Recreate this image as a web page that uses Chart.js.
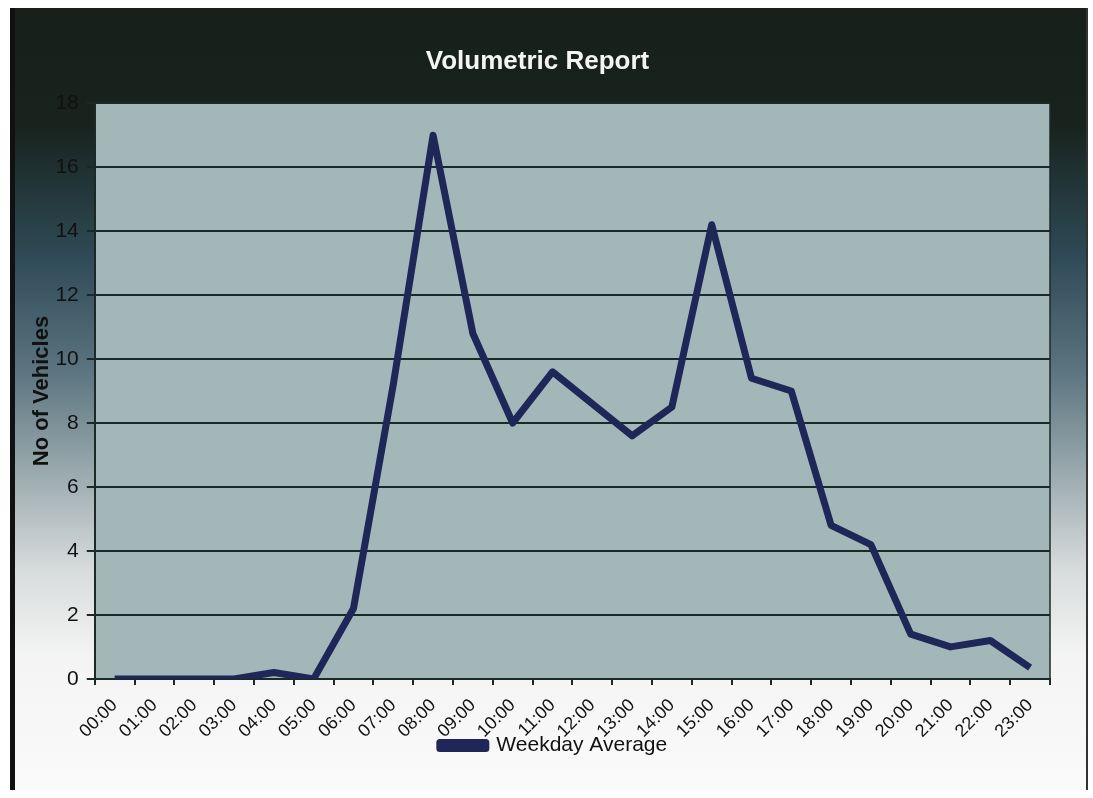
<!DOCTYPE html>
<html>
<head>
<meta charset="utf-8">
<script src="https://cdn.jsdelivr.net/npm/chart.js@4.4.1/dist/chart.umd.min.js"></script>
<style>
  body { margin: 0; background: #fff; }
  #frame {
    position: absolute; left: 10px; top: 8px; width: 1078px; height: 782px;
    border-left: 5px solid #111; border-right: 2px solid #333; box-sizing: border-box;
    background: linear-gradient(to bottom, #17201b 0%, #18231e 15%, #2f4b57 32%, #5a737e 46%, #98a8ad 59%, #d8dcdc 72%, #f4f4f4 83%, #fafafa 100%);
  }
  canvas { display: block; }
</style>
</head>
<body>
<div id="frame"><canvas id="myChart1" width="1071" height="782"></canvas></div>
<script>
const hours = ["00:00", "01:00", "02:00", "03:00", "04:00", "05:00", "06:00", "07:00", "08:00", "09:00", "10:00", "11:00",
  "12:00", "13:00", "14:00", "15:00", "16:00", "17:00", "18:00", "19:00", "20:00", "21:00", "22:00", "23:00"];
const weekdayAverage = [0, 0, 0, 0, 0.2, 0, 2.2, 9.2, 17.0, 10.8, 8.0, 9.6,
  8.6, 7.6, 8.5, 14.2, 9.4, 9.0, 4.8, 4.2, 1.4, 1.0, 1.2, 0.35];
const yTicks = [0, 2, 4, 6, 8, 10, 12, 14, 16, 18];

const gridColor = "#1b2a27";
const lineColor = "#1f2758";
const fontFam = "'Liberation Sans', Arial, sans-serif";

// plot area fill + right edge
const plotBg = {
  id: "plotBg",
  beforeDraw(chart) {
    const { ctx, chartArea: a } = chart;
    ctx.save();
    ctx.fillStyle = "#a3b7b8";
    ctx.fillRect(a.left, a.top, a.right - a.left, a.bottom - a.top);
    ctx.strokeStyle = gridColor;
    ctx.lineWidth = 1.5;
    ctx.beginPath();
    ctx.moveTo(a.right, a.top);
    ctx.lineTo(a.right, a.bottom);
    ctx.stroke();
    ctx.restore();
  }
};

// legend sits tucked up under the rotated hour labels, a bit right of centre
const legendUp = {
  id: "legendUp",
  afterLayout(chart) {
    const lg = chart.legend;
    lg.top -= 17;
    lg.bottom -= 17;
    lg.left += 16;
    lg.right += 16;
  }
};

new Chart(document.getElementById("myChart1"), {
  type: "line",
  data: {
    labels: hours,
    datasets: [{
      label: "Weekday Average",
      data: weekdayAverage,
      borderColor: lineColor,
      backgroundColor: lineColor,
      borderWidth: 7,
      pointRadius: 0,
      tension: 0,
      borderJoinStyle: "round"
    }]
  },
  options: {
    responsive: false,
    animation: false,
    layout: { padding: { left: 10, right: 36, top: 12, bottom: 7 } },
    plugins: {
      title: {
        display: true,
        text: "Volumetric Report",
        color: "#f4f4f4",
        font: { family: fontFam, size: 26, weight: "bold" },
        padding: { top: 26, bottom: 26 }
      },
      legend: {
        position: "bottom",
        labels: {
          color: "#111",
          font: { family: fontFam, size: 21 },
          boxWidth: 46,
          boxHeight: 6,
          padding: 0
        }
      },
      tooltip: { enabled: false }
    },
    scales: {
      x: {
        offset: true,
        grid: { offset: true, drawOnChartArea: false, tickLength: 6, color: gridColor, tickColor: gridColor, lineWidth: 2 },
        border: { display: true, color: gridColor, width: 2 },
        ticks: { color: "#111", maxRotation: 45, minRotation: 45, autoSkip: false, padding: 10,
          font: { family: fontFam, size: 18 } }
      },
      y: {
        min: 0,
        max: 18,
        afterBuildTicks(axis) { axis.ticks = yTicks.map(v => ({ value: v })); },
        grid: { color: gridColor, tickColor: gridColor, lineWidth: 2, tickLength: 8 },
        border: { display: true, color: gridColor, width: 2 },
        ticks: { color: "#111", padding: 8, font: { family: fontFam, size: 21 } },
        title: {
          display: true,
          text: "No of Vehicles",
          color: "#111",
          font: { family: fontFam, size: 22, weight: "bold" },
          padding: { top: 4, bottom: -8 }
        }
      }
    }
  },
  plugins: [plotBg, legendUp]
});
</script>
</body>
</html>
